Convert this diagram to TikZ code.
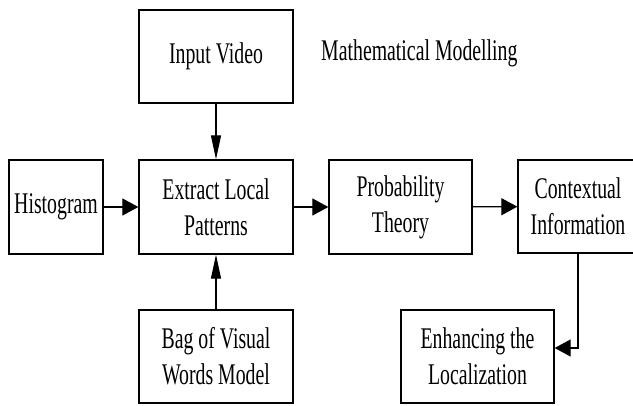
\documentclass[tikz,border=0pt]{standalone}
\usepackage{fontspec}
\setmainfont{Liberation Serif}
\newfontfamily\condserif[FakeStretch=0.66]{Liberation Serif}
\usetikzlibrary{arrows.meta}

\tikzset{
  block/.style={draw, line width=1.3bp, rectangle, inner sep=0pt, align=center,
    font=\condserif\fontsize{30bp}{36bp}\selectfont},
  link/.style={line width=1.2bp},
  harrow/.style={link, -{Triangle[length=16bp,width=17bp]}},
  varrow/.style={link, -{Triangle[length=24bp,width=10bp]}},
}

\begin{document}
\begin{tikzpicture}[x=1bp, y=-1bp]
  \useasboundingbox (0,0) rectangle (633,405);

  % processing blocks
  \node[block, minimum width=154bp, minimum height=93bp] (input)   at (216,56.5)  {Input Video};
  \node[block, minimum width=94bp,  minimum height=94bp] (hist)    at (56,207)    {Histogram};
  \node[block, minimum width=154bp, minimum height=94bp] (extract) at (216,207)   {Extract Local\\Patterns};
  \node[block, minimum width=143bp, minimum height=94bp] (prob)    at (400.5,207) {Probability\\Theory};
  \node[block, minimum width=120bp, minimum height=93bp] (context) at (578,206.5) {Contextual\\Information};
  \node[block, minimum width=154bp, minimum height=93bp] (bag)     at (216,356.5) {Bag of Visual\\Words Model};
  \node[block, minimum width=153bp, minimum height=93bp] (enh)     at (477.5,356.5) {Enhancing the\\Localization};

  % heading
  \node[font=\condserif\fontsize{30bp}{36bp}\selectfont, anchor=west, inner sep=0pt] (title) at (321,53) {Mathematical Modelling};

  % connections
  \draw[varrow] (input) -- (extract);
  \draw[varrow] (bag) -- (extract);
  \draw[harrow] (hist) -- (extract);
  \draw[harrow] (extract) -- (prob);
  \draw[harrow] (prob) -- (context);
  \draw[harrow] (context.south) |- ([yshift=8.5bp]enh.east);
\end{tikzpicture}
\end{document}
